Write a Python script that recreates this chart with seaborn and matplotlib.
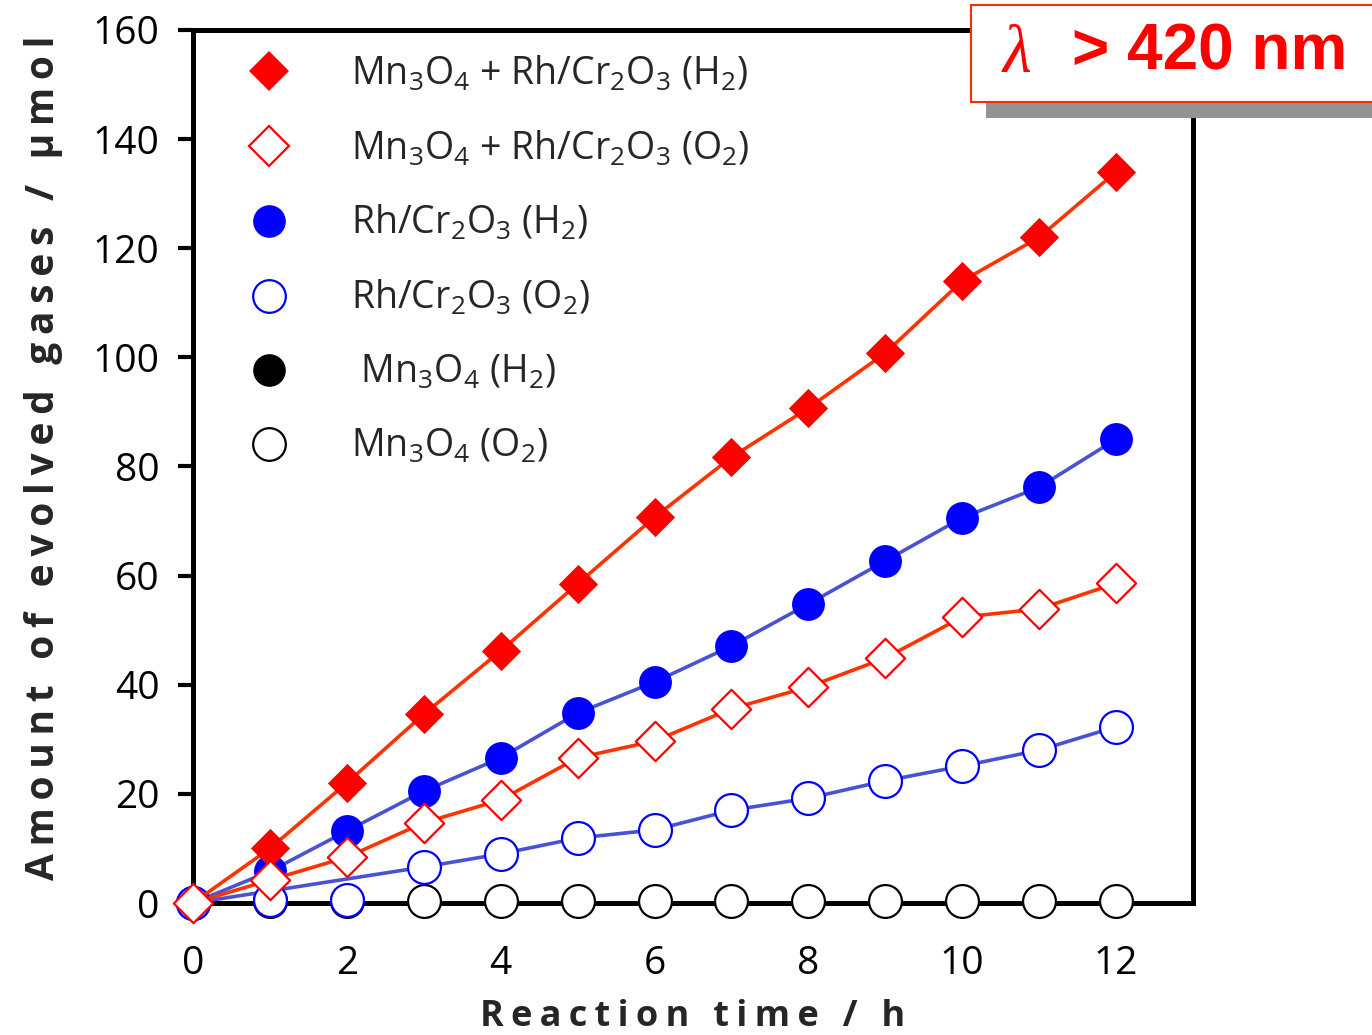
import matplotlib
matplotlib.use("Agg")
import matplotlib.pyplot as plt
from matplotlib.lines import Line2D
from matplotlib.patches import Rectangle
import seaborn as sns

# DATA ------------
hours = [0, 1, 2, 3, 4, 5, 6, 7, 8, 9, 10, 11, 12]
mix_h2 = [0, 10.0, 22.0, 34.6, 46.2, 58.5, 70.7, 81.7, 90.7, 100.8, 114.0, 122.0, 134.0]
mix_o2 = [0, 4.2, 8.4, 14.7, 18.9, 26.6, 29.7, 35.6, 39.6, 44.9, 52.4, 53.9, 58.6]
rh_h2 = [0, 5.8, 13.2, 20.5, 26.6, 34.8, 40.5, 47.1, 54.8, 62.7, 70.6, 76.2, 85.0]
rh_o2 = [0, 0.5, 0.5, 6.6, 9.0, 11.9, 13.4, 17.0, 19.2, 22.4, 25.1, 28.0, 32.3]
mn_h2 = [0, 0.3, 0.3, 0.3, 0.3, 0.3, 0.3, 0.3, 0.3, 0.3, 0.3, 0.3, 0.3]
mn_o2 = [0, 0.3, 0.3, 0.3, 0.3, 0.3, 0.3, 0.3, 0.3, 0.3, 0.3, 0.3, 0.3]
rh_o2_line_skip = [1, 2]  # these points are left off the drawn line in the original

labels = [
    'Mn$_3$O$_4$ + Rh/Cr$_2$O$_3$ (H$_2$)',
    'Mn$_3$O$_4$ + Rh/Cr$_2$O$_3$ (O$_2$)',
    'Rh/Cr$_2$O$_3$ (H$_2$)',
    'Rh/Cr$_2$O$_3$ (O$_2$)',
    ' Mn$_3$O$_4$ (H$_2$)',
    'Mn$_3$O$_4$ (O$_2$)',
]

# STYLE ------------
RED = '#ff0000'
BLUE = '#0000ff'
RED_LINE = '#ff3300'
BLUE_LINE = '#4a52d4'
FONT = 'Open Sans'

sns.set_style('white')
plt.rcParams['font.family'] = [FONT, 'DejaVu Sans']
plt.rcParams['mathtext.fontset'] = 'custom'
plt.rcParams['mathtext.rm'] = FONT
plt.rcParams['mathtext.default'] = 'regular'

fig = plt.figure(figsize=(13.72, 10.35), dpi=100)
ax = fig.add_axes([193 / 1372, 132 / 1035, 1000 / 1372, 873 / 1035])

# (values, marker, colour, filled, line colour, zorder) -- in legend order
series = [
    (mix_h2, 'D', RED, True, RED_LINE, 9),
    (mix_o2, 'D', RED, False, RED_LINE, 10),
    (rh_h2, 'o', BLUE, True, BLUE_LINE, 7),
    (rh_o2, 'o', BLUE, False, BLUE_LINE, 8),
    (mn_h2, 'o', 'black', True, None, 5),
    (mn_o2, 'o', 'black', False, None, 6),
]

for vals, marker, col, filled, lcol, z in series:
    if lcol is not None:
        if vals is rh_o2:
            xs = [h for h in hours if h not in rh_o2_line_skip]
            ys = [v for h, v in zip(hours, vals) if h not in rh_o2_line_skip]
        else:
            xs, ys = hours, vals
        sns.lineplot(x=xs, y=ys, color=lcol, linewidth=2.6, ax=ax, zorder=z - 0.5)
    size = 400 if marker == 'D' else 560
    sns.scatterplot(x=hours, y=vals, marker=marker, s=size,
                    color=col if filled else 'white', edgecolor=col,
                    linewidth=0 if filled else 1.6, ax=ax, zorder=z, clip_on=False)

ax.set_xlim(0, 13)
ax.set_ylim(0, 160)
ax.set_xticks(range(0, 13, 2))
ax.set_yticks(range(0, 161, 20))
for s in ax.spines.values():
    s.set_linewidth(3.6)
    s.set_color('black')
    s.set_zorder(4)
ax.tick_params(axis='both', direction='out', length=11, width=3, labelsize=28,
               colors='black', left=True, bottom=True)
ax.tick_params(axis='x', pad=19)
ax.tick_params(axis='y', pad=13)

sp = '\u2009'
ax.set_xlabel(sp.join('Reaction time / h'), fontsize=26, fontweight='bold')
ax.set_ylabel(sp.join('Amount of evolved gases / \u03bcmol'), fontsize=28, fontweight='bold')
ax.xaxis.set_label_coords(0.5, -0.110)
ax.yaxis.set_label_coords(-0.130, 0.51)

# Legend
handles = []
for vals, marker, col, filled, lcol, z in series:
    handles.append(Line2D([], [], ls='none', marker=marker,
                          markersize=20 if marker == 'D' else 23.5,
                          markerfacecolor=col if filled else 'white',
                          markeredgecolor=col, markeredgewidth=0 if filled else 1.6))
ax.legend(handles, labels, loc='upper left', bbox_to_anchor=(244 / 1372, 1 - 54 / 1035),
          bbox_transform=fig.transFigure, frameon=False, fontsize=27,
          handlelength=1.35, handletextpad=1.5, labelspacing=0.95,
          borderpad=0, borderaxespad=0)

# Wavelength box with shadow
fig.patches.append(Rectangle((986 / 1372, 1 - 118 / 1035), 0.3, 30 / 1035,
                             transform=fig.transFigure, facecolor='#939393',
                             edgecolor='none', zorder=20))
fig.patches.append(Rectangle((971 / 1372, 1 - 102 / 1035), 0.3, 97 / 1035,
                             transform=fig.transFigure, facecolor='white',
                             edgecolor='#ff2a00', linewidth=1.5, zorder=21))
fig.text(1003 / 1372, 1 - 55 / 1035, '\u03bb', color=RED, fontsize=48, style='italic',
         family=['Liberation Serif', 'DejaVu Serif'], ha='left', va='center', zorder=22)
fig.text(1072 / 1372, 1 - 53 / 1035, '> 420 nm', color=RED, fontsize=46, fontweight='bold',
         family=['Liberation Sans', 'DejaVu Sans'], ha='left', va='center', zorder=22)

fig.savefig('out.png', dpi=100)
